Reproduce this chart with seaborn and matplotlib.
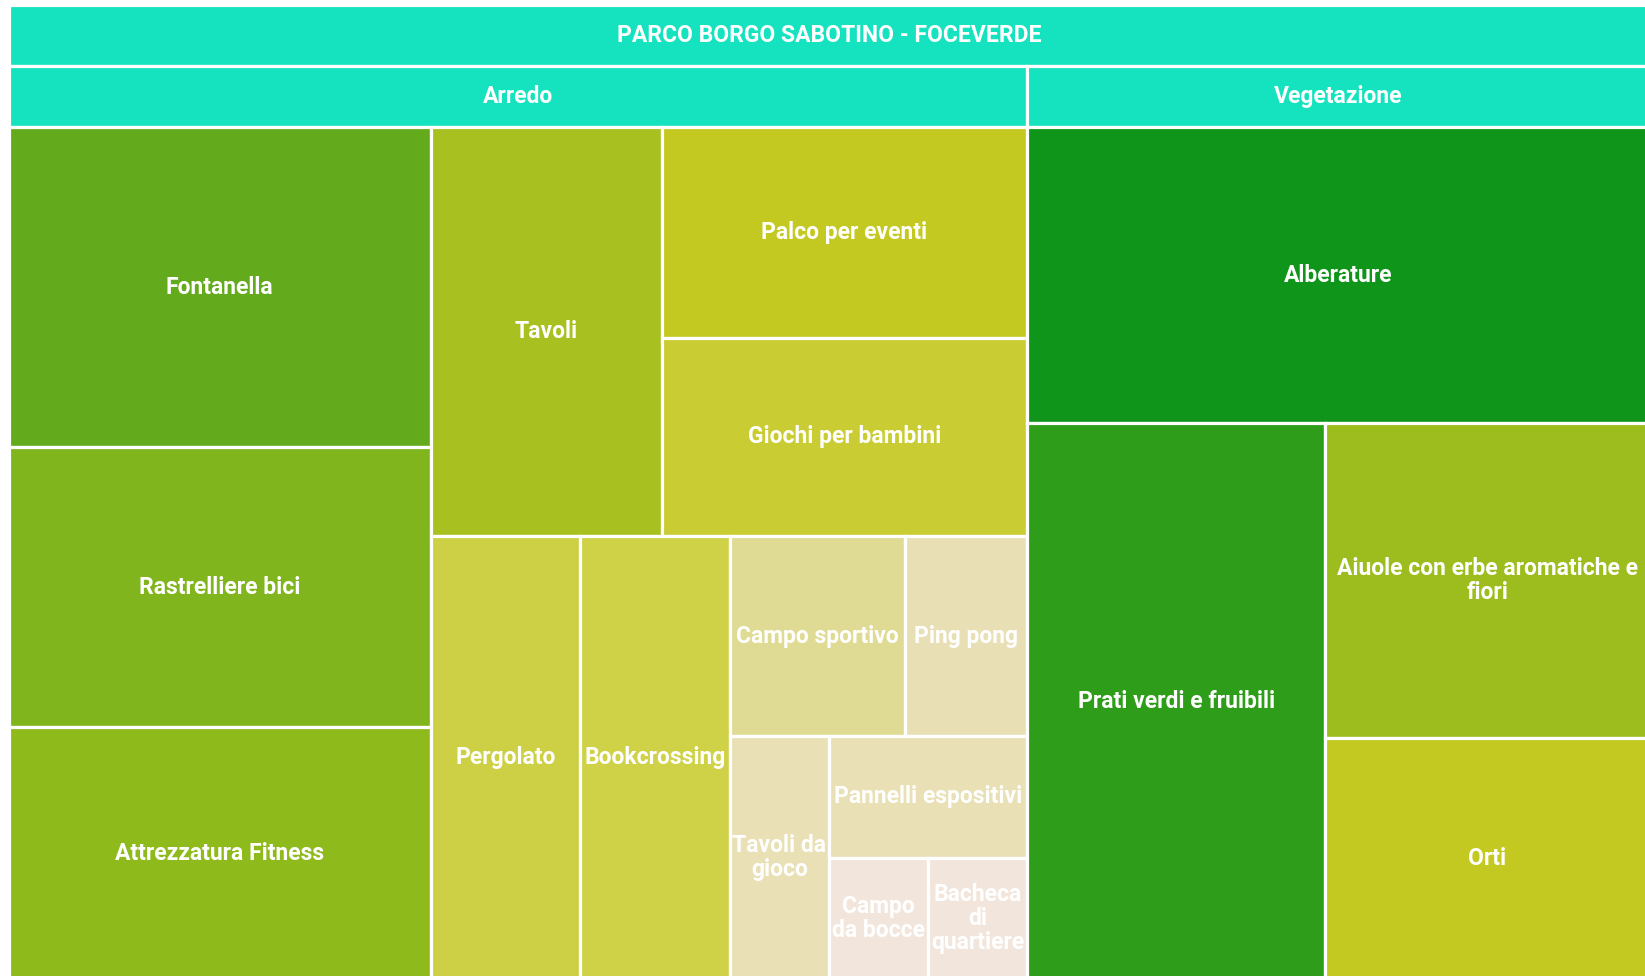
import matplotlib
matplotlib.use("Agg")
import matplotlib.pyplot as plt
from matplotlib.patches import Rectangle
import seaborn as sns

sns.set_theme(style="white")
plt.rcParams["font.family"] = ["Roboto", "DejaVu Sans"]

# %% data
title = "PARCO BORGO SABOTINO - FOCEVERDE"

arredo_labels = ["Fontanella", "Rastrelliere bici", "Attrezzatura Fitness", "Tavoli",
                 "Palco per eventi", "Giochi per bambini", "Pergolato", "Bookcrossing",
                 "Campo sportivo", "Ping pong", "Tavoli da\ngioco", "Pannelli espositivi",
                 "Campo\nda bocce", "Bacheca\ndi\nquartiere"]
arredo_values = [135, 118, 106, 94, 77, 72, 66, 66, 35, 24.5, 24, 24, 12, 12]

veg_labels = ["Alberature", "Prati verdi e fruibili",
              "Aiuole con erbe aromatiche e\nfiori", "Orti"]
veg_values = [184, 165, 102, 78]

colors = {
    "Fontanella": "#63ab1c", "Rastrelliere bici": "#80b51d", "Attrezzatura Fitness": "#8fba1c",
    "Tavoli": "#a8c020", "Palco per eventi": "#c4c921", "Giochi per bambini": "#c9cc32",
    "Pergolato": "#cdd044", "Bookcrossing": "#cfd146", "Campo sportivo": "#e0db94",
    "Ping pong": "#e8dfb5", "Tavoli da\ngioco": "#e9e0b6", "Pannelli espositivi": "#e9e0b6",
    "Campo\nda bocce": "#f2e6dc", "Bacheca\ndi\nquartiere": "#f2e6dc",
    "Alberature": "#0f951a", "Prati verdi e fruibili": "#2e9e1a",
    "Aiuole con erbe aromatiche e\nfiori": "#9dbd1e", "Orti": "#c4c921",
}
header_color = "#15e2be"

groups = {"Arredo": (arredo_labels, arredo_values),
          "Vegetazione": (veg_labels, veg_values)}


# %% layout: split so the first part holds at most half, cut across the longer side
def split_layout(items, x, y, w, h):
    if len(items) == 1:
        return [(items[0][0], x, y, w, h)]
    total = sum(v for _, v in items)
    k, acc = 1, items[0][1]
    while k < len(items) - 1 and acc + items[k][1] <= total / 2:
        acc += items[k][1]
        k += 1
    f = acc / total
    if w >= h:
        return (split_layout(items[:k], x, y, w * f, h) +
                split_layout(items[k:], x + w * f, y, w * (1 - f), h))
    return (split_layout(items[:k], x, y, w, h * f) +
            split_layout(items[k:], x, y + h * f, w, h * (1 - f)))


W, H = 1645, 976
x0, y0, x1, y1 = 8.5, 5, 1650, 979
head = 61

fig = plt.figure(figsize=(W / 100, H / 100), dpi=100)
ax = fig.add_axes([0, 0, 1, 1])
ax.set_xlim(0, W)
ax.set_ylim(H, 0)
ax.set_axis_off()

edge = dict(edgecolor="white", linewidth=2.3)
txt = dict(color="white", fontsize=16.5, fontweight="bold", ha="center", va="center",
           linespacing=1.05)

# root header
ax.add_patch(Rectangle((x0, y0), x1 - x0, head, facecolor=header_color, **edge))
ax.text((x0 + x1) / 2, y0 + head / 2, title, **txt)

# level 1
group_items = [(g, sum(v)) for g, (l, v) in groups.items()]
group_items.sort(key=lambda t: -t[1])
for gname, gx, gy, gw, gh in split_layout(group_items, x0, y0 + head, x1 - x0, y1 - y0 - head):
    ax.add_patch(Rectangle((gx, gy), gw, head, facecolor=header_color, **edge))
    ax.text(gx + gw / 2, gy + head / 2, gname, **txt)
    labels, values = groups[gname]
    items = sorted(zip(labels, values), key=lambda t: -t[1])
    for name, rx, ry, rw, rh in split_layout(items, gx, gy + head, gw, gh - head):
        ax.add_patch(Rectangle((rx, ry), rw, rh, facecolor=colors[name], **edge))
        ax.text(rx + rw / 2, ry + rh / 2, name, **txt)

fig.savefig("out.png", dpi=100)
